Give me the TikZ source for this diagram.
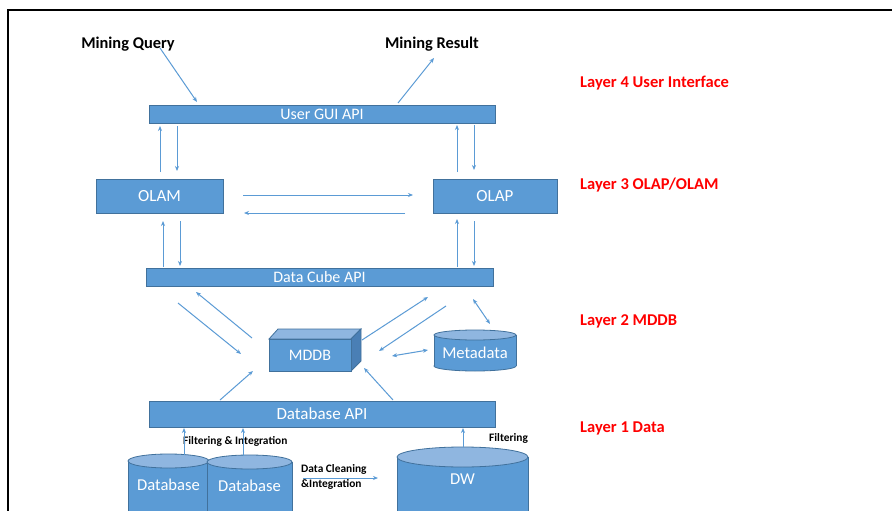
\documentclass[tikz,border=0pt]{standalone}
\usepackage{fontspec}
\setmainfont{Carlito}
\usetikzlibrary{arrows.meta}
\definecolor{fillb}{HTML}{5B9BD5}
\definecolor{edgeb}{HTML}{41719C}
\definecolor{lightb}{HTML}{8FB6E0}
\definecolor{darkb}{HTML}{4A7FB5}
\definecolor{arr}{HTML}{5B9BD5}
\definecolor{redl}{HTML}{FF0000}
\newcommand{\cylin}[8]{% name, x1, x2, ycenter top, ry, ybottom center, label, label y
  \fill[fillb, draw=edgeb, line width=0.8pt] ({(#2+#3)/2},#6) ellipse [x radius={(#3-#2)/2}, y radius=#5];
  \fill[fillb] (#2,#4) rectangle (#3,#6);
  \draw[edgeb, line width=0.8pt] (#2,#4) -- (#2,#6) (#3,#4) -- (#3,#6);
  \fill[lightb, draw=edgeb, line width=0.8pt] ({(#2+#3)/2},#4) ellipse [x radius={(#3-#2)/2}, y radius=#5];
  \node[text=white, font=\fontsize{16.6}{18}\selectfont, inner sep=0, minimum width={#3-#2}, minimum height=20] (#1) at ({(#2+#3)/2},#8) {#7};
}
\begin{document}
\begin{tikzpicture}[x=1pt,y=-1pt,
 bar/.style={draw=edgeb, fill=fillb, text=white, font=\fontsize{16}{18}\selectfont, inner sep=0, line width=0.8pt},
 arrow/.style={draw=arr, line width=1pt, -{Stealth[length=5pt,width=4pt]}},
 darrow/.style={draw=arr, line width=1pt, {Stealth[length=5pt,width=4pt]}-{Stealth[length=5pt,width=4pt]}},
 head/.style={font=\bfseries\fontsize{16.4}{18}\selectfont, inner sep=0},
 layer/.style={text=redl, font=\bfseries\fontsize{16.5}{18}\selectfont, anchor=west, inner sep=0},
 small/.style={font=\bfseries\fontsize{11.4}{13}\selectfont, inner sep=0}]
\useasboundingbox (0,0) rectangle (892,511);
\clip (0,0) rectangle (892,511);
\fill[white] (0,0) rectangle (892,511);
% frame
\draw[line width=2.5pt] (8,530) -- (8,10) -- (900,10);

% headings
\node[head] (mq) at (128,44.5) {Mining Query};
\node[head] (mr) at (432,44.5) {Mining Result};

% layer labels
\node[layer] (l4) at (580,83.5) {Layer 4 User Interface};
\node[layer] (l3) at (580,185.5) {Layer 3 OLAP/OLAM};
\node[layer] (l2) at (580,321.5) {Layer 2 MDDB};
\node[layer] (l1) at (580,428.5) {Layer 1 Data};

% bars and boxes
\node[bar, minimum width=346, minimum height=18] (gui) at (322,114) {User GUI API};
\node[bar, minimum width=127, minimum height=34, font=\fontsize{17}{19}\selectfont] (olam) at (159.5,196) {OLAM};
\node[bar, minimum width=124, minimum height=34, font=\fontsize{17}{19}\selectfont] (olap) at (495,196) {OLAP};
\node[bar, minimum width=347, minimum height=18] (cube) at (319.5,277) {Data Cube API};
\node[bar, minimum width=346, minimum height=26, font=\fontsize{17}{19}\selectfont] (dbapi) at (322,414) {Database API};

% MDDB cube
\fill[lightb, draw=edgeb, line width=0.8pt] (269,339) -- (278,329) -- (361,329) -- (351,339) -- cycle;
\fill[darkb, draw=edgeb, line width=0.8pt] (351,339) -- (361,329) -- (361,361) -- (351,371) -- cycle;
\node[bar, minimum width=82, minimum height=32] (mddb) at (310,355) {MDDB};

% cylinders
\cylin{meta}{434}{516}{335}{5}{366}{Metadata}{353}
\cylin{db1}{128}{209}{461}{7}{530}{Database}{485}
\cylin{db2}{207}{292}{462}{7}{530}{Database}{486}
\cylin{dw}{397}{528}{457}{10}{530}{DW}{479}

% small labels
\node[small, anchor=west] (fi) at (183,441) {Filtering \& Integration};
\node[small, anchor=west] (fl) at (489,438) {Filtering};
\node[small, anchor=west, align=left, font=\bfseries\fontsize{11.4}{15}\selectfont] (dc) at (301,477) {Data Cleaning\\\&Integration};

% coordinates for arrow ends
\coordinate (a1s) at (160,48);  \coordinate (a1e) at (197,102);
\coordinate (a2s) at (398,103); \coordinate (a2e) at (434,58);
% GUI <-> OLAM / OLAP
\coordinate (b1s) at (160,172); \coordinate (b1e) at (160,126);
\coordinate (b2s) at (177,126); \coordinate (b2e) at (177,171);
\coordinate (b3s) at (457,172); \coordinate (b3e) at (457,125);
\coordinate (b4s) at (474,125); \coordinate (b4e) at (474,170);
% OLAM <-> OLAP
\coordinate (c1s) at (243,195); \coordinate (c1e) at (413,195);
\coordinate (c2s) at (405,213); \coordinate (c2e) at (244,213);
% OLAM/OLAP <-> cube
\coordinate (d1s) at (163,267); \coordinate (d1e) at (163,221);
\coordinate (d2s) at (180,221); \coordinate (d2e) at (180,266);
\coordinate (d3s) at (457,267); \coordinate (d3e) at (457,219);
\coordinate (d4s) at (474,221); \coordinate (d4e) at (474,266);
% cube <-> MDDB
\coordinate (e1s) at (178,303); \coordinate (e1e) at (241,354);
\coordinate (e2s) at (252,338); \coordinate (e2e) at (196,292);
\coordinate (e3s) at (362,340); \coordinate (e3e) at (428,297);
\coordinate (e4s) at (446,306); \coordinate (e4e) at (379,351);
\coordinate (e5s) at (473,299); \coordinate (e5e) at (490,324);
\coordinate (e6s) at (392,356); \coordinate (e6e) at (428,350);
% dbapi -> MDDB
\coordinate (f1s) at (220,400); \coordinate (f1e) at (253,371);
\coordinate (f2s) at (393,400); \coordinate (f2e) at (364,368);
% databases -> dbapi
\coordinate (g1s) at (184,455); \coordinate (g1e) at (184,428);
\coordinate (g2s) at (243,456); \coordinate (g2e) at (243,428);
\coordinate (g3s) at (463,447); \coordinate (g3e) at (463,428);
\coordinate (h1s) at (303,478); \coordinate (h1e) at (378,478);

\draw[arrow] (a1s) -- (a1e);
\draw[arrow] (a2s) -- (a2e);
\foreach \n in {b1,b2,b3,b4,c1,c2,d1,d2,d3,d4,e1,e2,e3,e4,f1,f2,g1,g2,g3,h1}
  \draw[arrow] (\n s) -- (\n e);
\draw[darrow] (e5s) -- (e5e);
\draw[darrow] (e6s) -- (e6e);
\end{tikzpicture}
\end{document}
